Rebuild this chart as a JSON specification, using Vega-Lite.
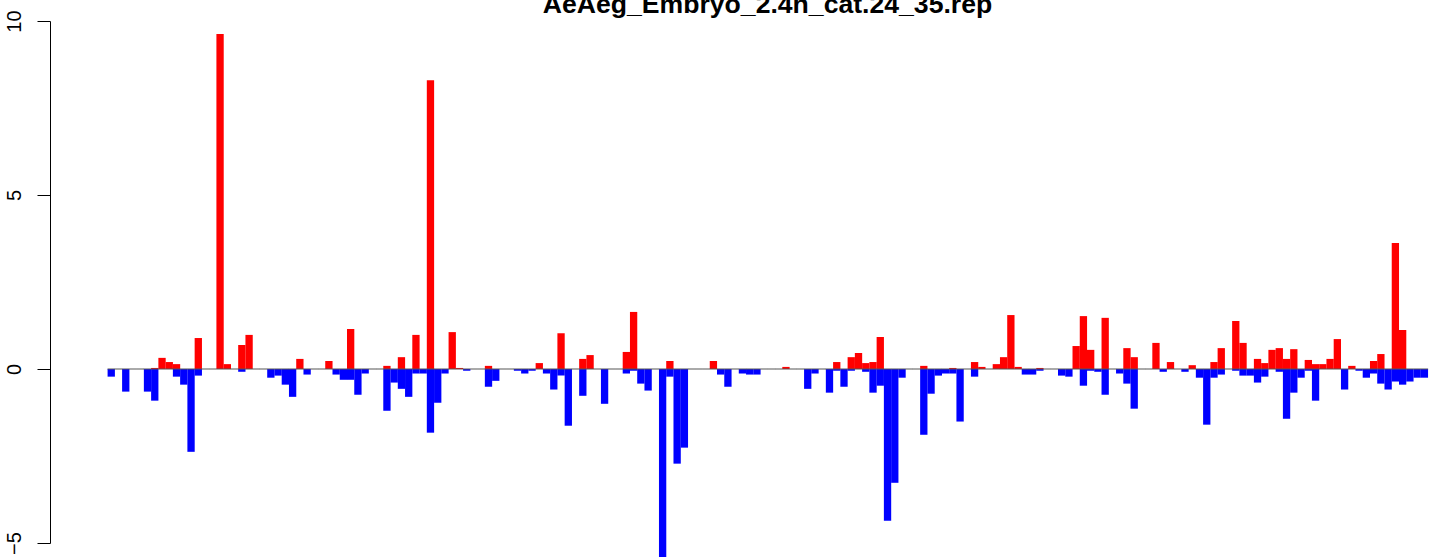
{
  "$schema": "https://vega.github.io/schema/vega-lite/v6.json",
  "width": 1391,
  "height": 522,
  "autosize": {"type": "none"},
  "padding": {"left": 50, "top": 21, "right": 0, "bottom": 14},
  "background": "white",
  "config": {"view": {"stroke": null}, "font": "Liberation Sans"},
  "title": {
    "text": "AeAeg_Embryo_2.4h_cat.24_35.rep",
    "frame": "group",
    "anchor": "middle",
    "dx": 22,
    "dy": 40,
    "offset": 10,
    "baseline": "alphabetic",
    "font": "Liberation Sans",
    "fontSize": 26.6,
    "fontWeight": "bold",
    "color": "black"
  },
  "data": {
    "values": [
      {"i":0,"pos":0,"neg":-0.22},{"i":1,"pos":0,"neg":0},{"i":2,"pos":0,"neg":-0.65},{"i":3,"pos":0,"neg":0},
      {"i":4,"pos":0,"neg":0},{"i":5,"pos":0,"neg":-0.65},{"i":6,"pos":0.03,"neg":-0.91},{"i":7,"pos":0.32,"neg":0},
      {"i":8,"pos":0.2,"neg":0},{"i":9,"pos":0.14,"neg":-0.22},{"i":10,"pos":0,"neg":-0.45},{"i":11,"pos":0,"neg":-2.38},
      {"i":12,"pos":0.89,"neg":-0.19},{"i":13,"pos":0,"neg":0},{"i":14,"pos":0,"neg":0},{"i":15,"pos":9.63,"neg":0},
      {"i":16,"pos":0.14,"neg":0},{"i":17,"pos":0,"neg":0},{"i":18,"pos":0.69,"neg":-0.08},{"i":19,"pos":0.98,"neg":0},
      {"i":20,"pos":0,"neg":0},{"i":21,"pos":0,"neg":0},{"i":22,"pos":0,"neg":-0.25},{"i":23,"pos":0,"neg":-0.19},
      {"i":24,"pos":0,"neg":-0.45},{"i":25,"pos":0,"neg":-0.8},{"i":26,"pos":0.29,"neg":0},{"i":27,"pos":0,"neg":-0.16},
      {"i":28,"pos":0,"neg":0},{"i":29,"pos":0,"neg":0},{"i":30,"pos":0.23,"neg":0},{"i":31,"pos":0,"neg":-0.16},
      {"i":32,"pos":0,"neg":-0.31},{"i":33,"pos":1.15,"neg":-0.31},{"i":34,"pos":0,"neg":-0.74},{"i":35,"pos":0,"neg":-0.13},
      {"i":36,"pos":0,"neg":0},{"i":37,"pos":0,"neg":0},{"i":38,"pos":0.09,"neg":-1.2},{"i":39,"pos":0,"neg":-0.39},
      {"i":40,"pos":0.34,"neg":-0.57},{"i":41,"pos":0,"neg":-0.8},{"i":42,"pos":0.98,"neg":-0.13},{"i":43,"pos":0,"neg":-0.13},
      {"i":44,"pos":8.3,"neg":-1.83},{"i":45,"pos":0,"neg":-0.97},{"i":46,"pos":0,"neg":-0.13},{"i":47,"pos":1.06,"neg":0},
      {"i":48,"pos":0.03,"neg":0},{"i":49,"pos":0,"neg":-0.05},{"i":50,"pos":0,"neg":0},{"i":51,"pos":0,"neg":0},
      {"i":52,"pos":0.09,"neg":-0.51},{"i":53,"pos":0,"neg":-0.34},{"i":54,"pos":0,"neg":0},{"i":55,"pos":0,"neg":0},
      {"i":56,"pos":0,"neg":-0.05},{"i":57,"pos":0,"neg":-0.13},{"i":58,"pos":0,"neg":-0.05},{"i":59,"pos":0.17,"neg":0},
      {"i":60,"pos":0,"neg":-0.13},{"i":61,"pos":0,"neg":-0.59},{"i":62,"pos":1.03,"neg":-0.19},{"i":63,"pos":0,"neg":-1.63},
      {"i":64,"pos":0,"neg":0},{"i":65,"pos":0.29,"neg":-0.77},{"i":66,"pos":0.4,"neg":0},{"i":67,"pos":0,"neg":0},
      {"i":68,"pos":0,"neg":-1.0},{"i":69,"pos":0,"neg":0},{"i":70,"pos":0,"neg":0},{"i":71,"pos":0.49,"neg":-0.13},
      {"i":72,"pos":1.64,"neg":-0.05},{"i":73,"pos":0,"neg":-0.42},{"i":74,"pos":0,"neg":-0.62},{"i":75,"pos":0,"neg":0},
      {"i":76,"pos":0,"neg":-5.45},{"i":77,"pos":0.23,"neg":-0.22},{"i":78,"pos":0,"neg":-2.72},{"i":79,"pos":0,"neg":-2.26},
      {"i":80,"pos":0,"neg":0},{"i":81,"pos":0,"neg":0},{"i":82,"pos":0,"neg":0},{"i":83,"pos":0.23,"neg":0},
      {"i":84,"pos":0,"neg":-0.16},{"i":85,"pos":0,"neg":-0.51},{"i":86,"pos":0,"neg":0},{"i":87,"pos":0,"neg":-0.13},
      {"i":88,"pos":0,"neg":-0.16},{"i":89,"pos":0,"neg":-0.16},{"i":90,"pos":0,"neg":0},{"i":91,"pos":0,"neg":0},
      {"i":92,"pos":0,"neg":0},{"i":93,"pos":0.06,"neg":0},{"i":94,"pos":0,"neg":0},{"i":95,"pos":0,"neg":0},
      {"i":96,"pos":0,"neg":-0.57},{"i":97,"pos":0,"neg":-0.13},{"i":98,"pos":0,"neg":0},{"i":99,"pos":0,"neg":-0.68},
      {"i":100,"pos":0.2,"neg":-0.05},{"i":101,"pos":0,"neg":-0.51},{"i":102,"pos":0.34,"neg":-0.05},{"i":103,"pos":0.46,"neg":0},
      {"i":104,"pos":0.17,"neg":-0.08},{"i":105,"pos":0.2,"neg":-0.68},{"i":106,"pos":0.92,"neg":-0.48},{"i":107,"pos":0,"neg":-4.36},
      {"i":108,"pos":0,"neg":-3.27},{"i":109,"pos":0,"neg":-0.25},{"i":110,"pos":0,"neg":0},{"i":111,"pos":0,"neg":0},
      {"i":112,"pos":0.09,"neg":-1.89},{"i":113,"pos":0,"neg":-0.71},{"i":114,"pos":0,"neg":-0.19},{"i":115,"pos":0,"neg":-0.13},
      {"i":116,"pos":0.03,"neg":-0.13},{"i":117,"pos":0,"neg":-1.51},{"i":118,"pos":0,"neg":0},{"i":119,"pos":0.2,"neg":-0.22},
      {"i":120,"pos":0.06,"neg":0},{"i":121,"pos":0,"neg":0},{"i":122,"pos":0.14,"neg":0},{"i":123,"pos":0.34,"neg":0},
      {"i":124,"pos":1.55,"neg":0},{"i":125,"pos":0.06,"neg":0},{"i":126,"pos":0,"neg":-0.16},{"i":127,"pos":0,"neg":-0.16},
      {"i":128,"pos":0.03,"neg":-0.05},{"i":129,"pos":0,"neg":0},{"i":130,"pos":0,"neg":0},{"i":131,"pos":0,"neg":-0.19},
      {"i":132,"pos":0,"neg":-0.22},{"i":133,"pos":0.66,"neg":0},{"i":134,"pos":1.52,"neg":-0.48},{"i":135,"pos":0.55,"neg":-0.05},
      {"i":136,"pos":0,"neg":-0.08},{"i":137,"pos":1.47,"neg":-0.74},{"i":138,"pos":0,"neg":0},{"i":139,"pos":0,"neg":-0.13},
      {"i":140,"pos":0.6,"neg":-0.42},{"i":141,"pos":0.34,"neg":-1.14},{"i":142,"pos":0,"neg":0},{"i":143,"pos":0,"neg":0},
      {"i":144,"pos":0.75,"neg":0},{"i":145,"pos":0,"neg":-0.08},{"i":146,"pos":0.2,"neg":0},{"i":147,"pos":0,"neg":0},
      {"i":148,"pos":0,"neg":-0.08},{"i":149,"pos":0.11,"neg":0},{"i":150,"pos":0,"neg":-0.25},{"i":151,"pos":0,"neg":-1.6},
      {"i":152,"pos":0.2,"neg":-0.25},{"i":153,"pos":0.6,"neg":-0.16},{"i":154,"pos":0,"neg":0},{"i":155,"pos":1.38,"neg":-0.05},
      {"i":156,"pos":0.75,"neg":-0.19},{"i":157,"pos":0,"neg":-0.19},{"i":158,"pos":0.29,"neg":-0.39},{"i":159,"pos":0.17,"neg":-0.22},
      {"i":160,"pos":0.55,"neg":0},{"i":161,"pos":0.6,"neg":-0.08},{"i":162,"pos":0.29,"neg":-1.43},{"i":163,"pos":0.57,"neg":-0.68},
      {"i":164,"pos":0,"neg":-0.25},{"i":165,"pos":0.26,"neg":-0.05},{"i":166,"pos":0.14,"neg":-0.91},{"i":167,"pos":0.14,"neg":0},
      {"i":168,"pos":0.29,"neg":0},{"i":169,"pos":0.86,"neg":0},{"i":170,"pos":0,"neg":-0.59},{"i":171,"pos":0.09,"neg":0},
      {"i":172,"pos":0,"neg":-0.05},{"i":173,"pos":0,"neg":-0.25},{"i":174,"pos":0.23,"neg":-0.13},{"i":175,"pos":0.43,"neg":-0.42},
      {"i":176,"pos":0,"neg":-0.59},{"i":177,"pos":3.62,"neg":-0.36},{"i":178,"pos":1.12,"neg":-0.45},{"i":179,"pos":0,"neg":-0.36},
      {"i":180,"pos":0,"neg":-0.25},{"i":181,"pos":0,"neg":-0.25}
    ]
  },
  "encoding": {
    "x": {
      "field": "i",
      "type": "quantitative",
      "scale": {"domain": [-7.752, 182.598], "nice": false, "zero": false},
      "axis": null
    }
  },
  "layer": [
    {
      "mark": {"type": "bar", "color": "#FF0000", "stroke": null, "width": 7.31, "clip": false},
      "encoding": {
        "y": {
          "field": "pos",
          "type": "quantitative",
          "scale": {"domain": [-5, 10], "nice": false, "zero": false},
          "axis": {
            "title": null,
            "values": [-5, 0, 5, 10],
            "grid": false,
            "domainColor": "black",
            "domainWidth": 1,
            "tickColor": "black",
            "tickWidth": 1,
            "tickSize": 13,
            "labelAngle": -90,
            "labelAlign": "center",
            "labelBaseline": "alphabetic",
            "labelPadding": 17,
            "labelFont": "Liberation Sans",
            "labelFontSize": 20,
            "labelColor": "black",
            "labelFlush": false,
            "labelOverlap": false
          }
        }
      }
    },
    {
      "mark": {"type": "bar", "color": "#0000FF", "stroke": null, "width": 7.31, "clip": false},
      "encoding": {
        "y": {"field": "neg", "type": "quantitative"}
      }
    },
    {
      "mark": {"type": "tick", "orient": "horizontal", "size": 7.4, "thickness": 1, "color": "#555555", "opacity": 1},
      "encoding": {
        "y": {"datum": 0, "type": "quantitative"}
      }
    }
  ]
}
